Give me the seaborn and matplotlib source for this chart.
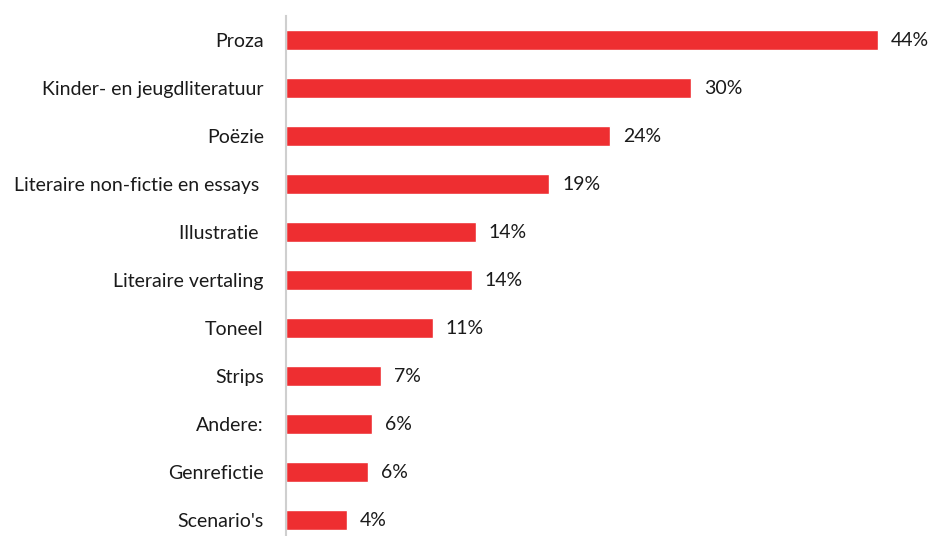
import matplotlib
matplotlib.use("Agg")
import matplotlib.pyplot as plt
import seaborn as sns
import pandas as pd

categories = ["Proza", "Kinder- en jeugdliteratuur", "Poëzie", "Literaire non-fictie en essays ",
              "Illustratie ", "Literaire vertaling", "Toneel", "Strips", "Andere:", "Genrefictie", "Scenario's"]
values = [44.0, 30.1, 24.1, 19.55, 14.1, 13.8, 10.9, 7.06, 6.4, 6.1, 4.5]
value_labels = ["44%", "30%", "24%", "19%", "14%", "14%", "11%", "7%", "6%", "6%", "4%"]

df = pd.DataFrame({"cat": categories, "val": values})

sns.set_theme(style="white")
plt.rcParams['font.family'] = ['Lato', 'DejaVu Sans']

W, H = 929, 536
fig = plt.figure(figsize=(W / 100, H / 100), dpi=100)
left_px, right_px, top_px, bottom_px = 286, 929, 16, 544
ax = fig.add_axes([left_px / W, (H - bottom_px) / H, (right_px - left_px) / W, (bottom_px - top_px) / H])

sns.barplot(data=df, x="val", y="cat", orient="h", color="#EE2E31", width=0.43, ax=ax, saturation=1)

ax.set_xlim(0, (right_px - left_px) / 13.45)
ax.set_ylim(len(categories) - 0.5, -0.5)
ax.bar_label(ax.containers[0], labels=value_labels, padding=9.5, fontsize=14, color="#1a1a1a")

ax.set_xlabel("")
ax.set_ylabel("")
ax.set_xticks([])
ax.tick_params(axis="y", length=0, pad=16, labelsize=14, labelcolor="#1a1a1a")
for s in ["top", "right", "bottom"]:
    ax.spines[s].set_visible(False)
ax.spines["left"].set_color("#cfcfcf")
ax.spines["left"].set_linewidth(1.5)

fig.savefig("out.png", dpi=100)
